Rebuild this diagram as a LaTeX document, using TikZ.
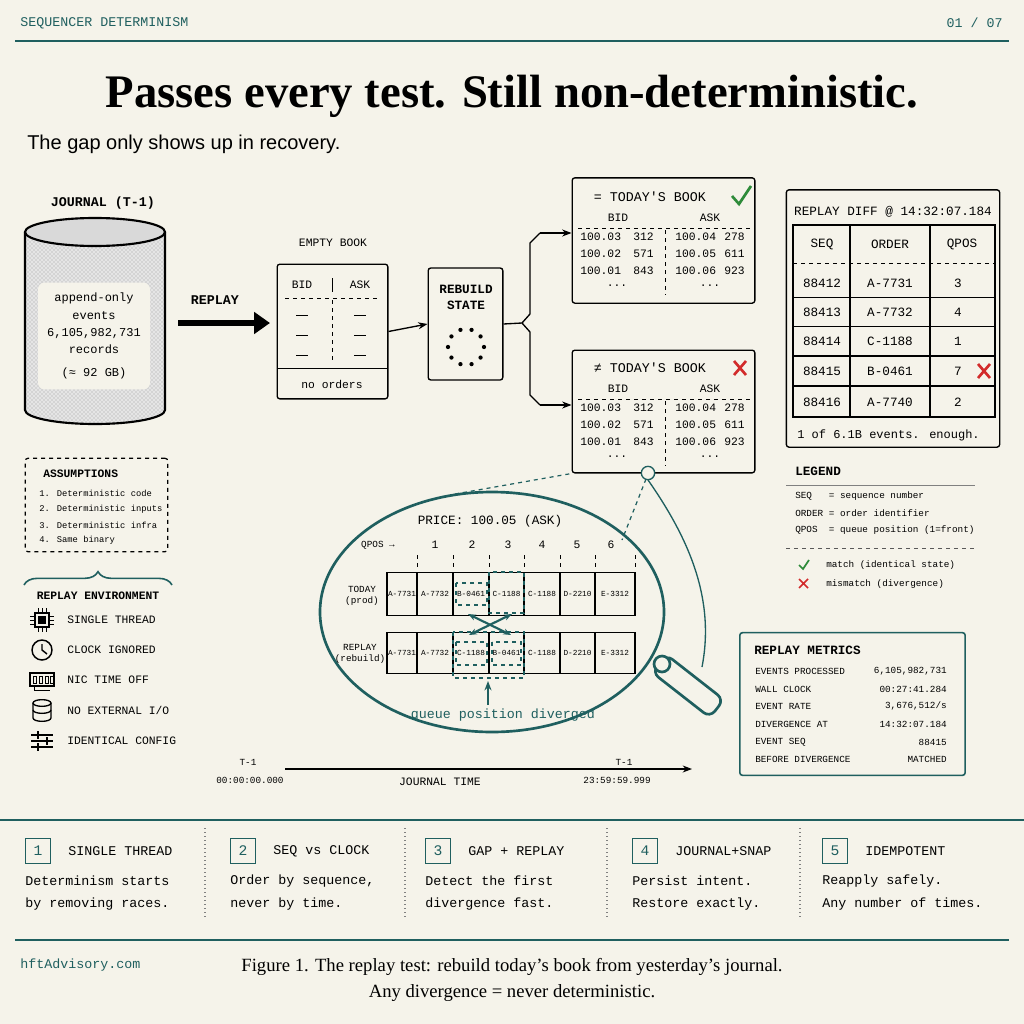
\documentclass[tikz,border=0pt]{standalone}
\usepackage{fontspec}
\setmainfont{Liberation Serif}
\newfontfamily\mono{Liberation Mono}
\newfontfamily\sansf{Liberation Sans}
\newfontfamily\djv{DejaVu Sans}
\usetikzlibrary{arrows.meta,patterns,decorations.pathreplacing}
\definecolor{bg}{HTML}{F5F3EA}
\definecolor{tl}{HTML}{1F5F5F}
\definecolor{okg}{HTML}{2E8B3A}
\definecolor{bad}{HTML}{D22B2B}
\tikzset{
 m/.style={font=\mono\fontsize{8.5pt}{10pt}\selectfont,inner sep=0pt},
 ms/.style={font=\mono\fontsize{7pt}{8.5pt}\selectfont,inner sep=0pt},
 mb/.style={font=\mono\fontsize{10pt}{12pt}\selectfont,inner sep=0pt},
 box/.style={draw=black,line width=1pt,rounded corners=2pt},
 cell/.style={draw=black,line width=0.8pt,font=\mono\fontsize{5.8pt}{7pt}\selectfont,inner sep=0pt},
 tdash/.style={draw=tl,dashed,line width=0.9pt},
 arr/.style={-{Stealth[length=7pt]},line width=1pt},
}
\begin{document}
\begin{tikzpicture}[x=0.75pt,y=-0.75pt]
\fill[bg] (0,0) rectangle (1024,1024);
\useasboundingbox (0,0) rectangle (1024,1024);
% header
\node[mb,text=tl,anchor=west] (hd) at (20,23) {SEQUENCER DETERMINISM};
\node[mb,text=tl,anchor=east] (pg) at (1003,23) {01 / 07};
\draw[tl,line width=1.2pt] (15,41) -- (1009,41);
\node[font=\bfseries\fontsize{35pt}{38pt}\selectfont,inner sep=0pt] (title) at (512,96) {Passes every test. Still non-deterministic.};
\node[font=\sansf\fontsize{15pt}{17pt}\selectfont,anchor=west,inner sep=0pt] (sub) at (27,144) {The gap only shows up in recovery.};
% journal
\node[font=\mono\bfseries\fontsize{10pt}{12pt}\selectfont] (jt) at (103,203) {JOURNAL (T-1)};
\path[fill=gray!20] (25,232) -- (25,410) arc[start angle=180,end angle=360,x radius=52.5pt,y radius=10.5pt] -- (165,232) -- cycle;
\path[pattern=crosshatch dots,pattern color=gray!75] (25,232) -- (25,410) arc[start angle=180,end angle=360,x radius=52.5pt,y radius=10.5pt] -- (165,232) -- cycle;
\draw[line width=1.6pt] (25,232) -- (25,410) arc[start angle=180,end angle=360,x radius=52.5pt,y radius=10.5pt] -- (165,232);
\draw[line width=1.6pt,fill=gray!30] (95,232) ellipse[x radius=52.5pt,y radius=10.5pt];
\node[fill=bg,rounded corners=5pt,minimum width=84pt,minimum height=80pt,align=center,font=\mono\fontsize{9pt}{13pt}\selectfont] (jr) at (94,336) {append-only\\events\\6,105,982,731\\records\\[4pt](≈ 92 GB)};
% replay arrow
\node[font=\mono\bfseries\fontsize{10pt}{12pt}\selectfont] (rl) at (215,300) {REPLAY};
\coordinate (ra) at (178,323);
\coordinate (rb) at (270,323);
\draw[line width=4pt,-{Triangle[length=12pt,width=16pt]}] (ra) -- (rb);
% empty book
\node[m] (ebl) at (333,243) {EMPTY BOOK};
\node[box,minimum width=83pt,minimum height=101pt] (eb) at (332.5,331.5) {};
\node[m] at (302,285) {BID}; \node[m] at (360,285) {ASK};
\draw (332,278) -- (332,292);
\draw[dashed] (285,298) -- (380,298);
\foreach \y in {315,335,355}{\draw (296,\y) -- (308,\y); \draw (354,\y) -- (366,\y);}
\draw[dashed] (332,300) -- (332,362);
\draw (277,368) -- (388,368);
\node[m] at (332,384) {no orders};
% rebuild
\node[box,minimum width=56pt,minimum height=84pt] (rs) at (465.5,324) {};
\node[font=\mono\bfseries\fontsize{9.5pt}{12pt}\selectfont,align=center] at (466,297) {REBUILD\\STATE};
\foreach \a in {0,36,...,324}{\fill (466,347) ++(\a:13.5pt) circle (1.6pt);}
\draw[arr] (eb.east) -- (rs.west);
% books
\node[box,minimum width=137pt,minimum height=94pt] (b1) at (663.5,240.5) {};
\node[box,minimum width=137pt,minimum height=92pt] (b2) at (663.5,411.5) {};
\node[font=\mono\fontsize{10pt}{12pt}\selectfont] at (650,197) {= TODAY'S BOOK};
\node[font=\mono\fontsize{10pt}{12pt}\selectfont] at (650,368) {≠ TODAY'S BOOK};
\draw[okg,line width=2pt] (732,196) -- (739,204) -- (751,186);
\draw[bad,line width=2pt] (734,361) -- (746,375) (746,361) -- (734,375);
\foreach \o in {0,171}{
 \begin{scope}[yshift=-\o*0.75pt]
 \node[m] at (618,218) {BID}; \node[m] at (710,218) {ASK};
 \draw[dashed] (578,228) -- (750,228);
 \draw[dashed] (665,230) -- (665,295);
 \node[m,anchor=west] at (580,237) {100.03}; \node[m,anchor=east] at (654,237) {312};
 \node[m,anchor=west] at (675,237) {100.04}; \node[m,anchor=east] at (745,237) {278};
 \node[m,anchor=west] at (580,254) {100.02}; \node[m,anchor=east] at (654,254) {571};
 \node[m,anchor=west] at (675,254) {100.05}; \node[m,anchor=east] at (745,254) {611};
 \node[m,anchor=west] at (580,271) {100.01}; \node[m,anchor=east] at (654,271) {843};
 \node[m,anchor=west] at (675,271) {100.06}; \node[m,anchor=east] at (745,271) {923};
 \node[m] at (617,286) {...}; \node[m] at (710,286) {...};
 \end{scope}}
% fork
\coordinate (fk) at (522,323);
\draw[line width=1pt] (rs.east) -- (fk) -- (530,314) -- (530,243) -- (540,233);
\draw[line width=1pt] (fk) -- (530,332) -- (530,395) -- (540,405);
\draw[arr] (540,233) -- (b1.west |- 0,233);
\draw[arr] (540,405) -- (b2.west |- 0,405);
% replay diff
\node[box,minimum width=160pt,minimum height=193pt] (rd) at (893,318.5) {};
\node[m,font=\mono\fontsize{9.5pt}{11pt}\selectfont] at (893,212) {REPLAY DIFF @ 14:32:07.184};
\draw[line width=0.8pt] (793,225) rectangle (995,417);
\draw[line width=0.8pt] (850,225) -- (850,417) (930,225) -- (930,417);
\node[m,font=\mono\fontsize{9.5pt}{11pt}\selectfont] at (822,244) {SEQ};
\node[m,font=\mono\fontsize{9.5pt}{11pt}\selectfont] at (890,244) {ORDER};
\node[m,font=\mono\fontsize{9.5pt}{11pt}\selectfont] at (962,244) {QPOS};
\draw[dashed] (793,263) -- (995,263);
\foreach \y/\s/\o/\q in {283/88412/A-7731/3,312/88413/A-7732/4,341/88414/C-1188/1,371/88415/B-0461/7,402/88416/A-7740/2}{
 \node[m,font=\mono\fontsize{9.5pt}{11pt}\selectfont] at (822,\y) {\s};
 \node[m,font=\mono\fontsize{9.5pt}{11pt}\selectfont] at (890,\y) {\o};
 \node[m,font=\mono\fontsize{9.5pt}{11pt}\selectfont] at (958,\y) {\q};}
\draw[line width=0.6pt] (793,297) -- (995,297) (793,326) -- (995,326) (793,386) -- (995,386);
\draw[line width=1.8pt] (793,356) rectangle (995,386);
\draw[bad,line width=2pt] (978,364) -- (990,378) (990,364) -- (978,378);
\node[m,font=\mono\fontsize{9pt}{11pt}\selectfont,anchor=west] at (797,435) {1 of 6.1B events. enough.};
% legend
\node[m,font=\mono\bfseries\fontsize{9.5pt}{11pt}\selectfont,anchor=west] (lg) at (795,471) {LEGEND};
\draw[gray] (786,485) -- (975,485);
\node[ms,anchor=west] at (795,496) {SEQ\ \ \ = sequence number};
\node[ms,anchor=west] at (795,513) {ORDER = order identifier};
\node[ms,anchor=west] at (795,530) {QPOS\ \ = queue position (1=front)};
\draw[dashed,gray!70!black] (786,548) -- (975,548);
\draw[okg,line width=1.3pt] (799,565) -- (803,569) -- (809,560);
\node[ms,anchor=west] at (826,565) {match (identical state)};
\draw[bad,line width=1.3pt] (799,579) -- (808,588) (808,579) -- (799,588);
\node[ms,anchor=west] at (826,584) {mismatch (divergence)};
% assumptions
\node[draw,dashed,line width=0.9pt,rounded corners=2pt,minimum width=107pt,minimum height=70pt] (as) at (96.5,505) {};
\node[m,font=\mono\bfseries\fontsize{8.5pt}{10pt}\selectfont,anchor=west] at (43,474) {ASSUMPTIONS};
\foreach \y/\t in {493/1. Deterministic code,509/2. Deterministic inputs,525/3. Deterministic infra,540/4. Same binary}
 \node[ms,font=\mono\fontsize{6.6pt}{8pt}\selectfont,anchor=west] at (39,\y) {\t};
\draw[tl,line width=1.2pt,decorate,decoration={brace,amplitude=10pt}] (24,585) -- (172,585);
\node[m,font=\mono\bfseries\fontsize{8.5pt}{10pt}\selectfont] (re) at (98,596) {REPLAY ENVIRONMENT};
\foreach \y/\t in {620/{SINGLE THREAD},650/{CLOCK IGNORED},680/{NIC TIME OFF},710/{NO EXTERNAL I/O},741/{IDENTICAL CONFIG}}
 \node[m,anchor=west] at (67,\y) {\t};
% icons
\draw[line width=0.9pt] (35,613) rectangle (49,627); \fill (38,616) rectangle (46,624);
\foreach \d in {-4,0,4}{\draw (30,620+\d) -- (35,620+\d) (49,620+\d) -- (54,620+\d) (42+\d,608) -- (42+\d,613) (42+\d,627) -- (42+\d,632);}
\draw[line width=1.1pt] (42,650) circle (7.5pt); \draw[line width=1.1pt] (42,644) -- (42,650) -- (47,654);
\draw[line width=1.1pt] (30,673) rectangle (54,686); \foreach \x in {33,39,45,50} \draw (\x,676) rectangle (\x+3,683); \draw (34,686) -- (34,690) -- (50,690);
\draw[line width=1pt] (33,703) -- (33,718) arc[start angle=180,end angle=360,x radius=6.75pt,y radius=2.5pt] -- (51,703);
\draw[line width=1pt] (42,703) ellipse[x radius=6.75pt,y radius=2.5pt];
\draw[line width=1pt] (33,710) arc[start angle=180,end angle=360,x radius=6.75pt,y radius=2.5pt];
\draw[line width=1.1pt] (31,735) -- (53,735) (31,741) -- (53,741) (31,747) -- (53,747) (38,731) -- (38,739) (47,737) -- (47,745) (38,743) -- (38,751);
% magnifier
\node[draw=tl,line width=2pt,rounded corners=6pt,fill=bg,minimum width=55pt,minimum height=17pt,rotate=-38] (hdl) at (688,686) {};
\draw[tl,line width=2pt,fill=bg] (662,664) circle (6pt);
\draw[tl,line width=2pt,fill=bg] (492,612) ellipse[x radius=129pt,y radius=90pt];
\draw[tl,line width=1pt] (648,480) .. controls (690,540) and (715,600) .. (702,667);
\coordinate (mz1) at (455,494);
\coordinate (mz2) at (622,540);
\draw[tdash] (mz1) -- (b2.south west);
\draw[tl,fill=bg,line width=1pt] (648,473) circle (5pt);
\draw[tdash] (646,479) -- (mz2);
\node[m,font=\mono\fontsize{9.5pt}{11pt}\selectfont] (pr) at (490,521) {PRICE: 100.05 (ASK)};
\node[ms] at (378,545) {QPOS →};
\foreach \x/\n in {435/1,472/2,508/3,542/4,577/5,611/6} \node[m] at (\x,545) {\n};
\foreach \x in {417,453,489,524,560,595,635} \draw[dashed] (\x,555) -- (\x,568);
\node[ms,align=center] at (362,596) {TODAY\\(prod)};
\node[ms,align=center] at (360,654) {REPLAY\\(rebuild)};
\foreach \a/\b/\t in {387/417/A-7731,417/453/A-7732,453/489/B-0461,489/524/C-1188,524/560/C-1188,560/595/D-2210,595/635/E-3312}
 \node[cell,minimum height=32pt,minimum width={(\b-\a)*0.75pt}] at ({(\a+\b)/2},594) {\t};
\foreach \a/\b/\t in {387/417/A-7731,417/453/A-7732,453/489/C-1188,489/524/B-0461,524/560/C-1188,560/595/D-2210,595/635/E-3312}
 \node[cell,minimum height=31pt,minimum width={(\b-\a)*0.75pt}] at ({(\a+\b)/2},653) {\t};
\draw[tdash] (456,583) rectangle (487,605);
\draw[tdash] (489,572) rectangle (524,613);
\draw[tdash] (453,632) rectangle (524,678);
\draw[tdash] (456,642) rectangle (487,665);
\draw[tdash] (492,642) rectangle (521,665);
\draw[tl,line width=1.6pt,{Stealth[length=6pt]}-{Stealth[length=6pt]}] (468,614) -- (511,635);
\draw[tl,line width=1.6pt,{Stealth[length=6pt]}-{Stealth[length=6pt]}] (512,614) -- (469,635);
\coordinate (qa) at (488,705);
\draw[tl,line width=1.4pt,-{Stealth[length=7pt]}] (qa) -- (488,681);
\node[font=\mono\fontsize{10pt}{12pt}\selectfont,text=tl,inner sep=0pt] (qd) at (503,715) {queue position diverged};
% timeline
\node[ms] at (248,762) {T-1}; \node[ms] at (250,780) {00:00:00.000};
\node[ms] at (624,762) {T-1}; \node[ms] at (617,780) {23:59:59.999};
\coordinate (t0) at (285,769); \coordinate (t1) at (692,769);
\draw[line width=0.8pt,-{Stealth[length=7pt]}] (t0) -- (t1);
\node[m] at (440,782) {JOURNAL TIME};
% metrics
\node[draw=tl,line width=1.2pt,rounded corners=2pt,minimum width=169pt,minimum height=107pt] (rm) at (852.5,704) {};
\node[m,font=\mono\bfseries\fontsize{9.5pt}{11pt}\selectfont,anchor=west] at (754,650) {REPLAY METRICS};
\foreach \y/\a/\b in {671/{EVENTS PROCESSED}/{6,105,982,731},689/{WALL CLOCK}/{00:27:41.284},706/{EVENT RATE}/{3,676,512/s},724/{DIVERGENCE AT}/{14:32:07.184},742/{EVENT SEQ}/{88415},759/{BEFORE DIVERGENCE}/{MATCHED}}{
 \node[ms,anchor=west] at (755,\y) {\a}; \node[ms,anchor=east] at (947,\y) {\b};}
% bottom
\draw[tl,line width=1.2pt] (0,820) -- (1024,820);
\foreach \x in {205,405,607,800} \draw[gray,dotted,line width=1pt] (\x,828) -- (\x,918);
\foreach \x/\n/\t/\a/\b in {25/1/{SINGLE THREAD}/{Determinism starts}/{by removing races.},230/2/{SEQ vs CLOCK}/{Order by sequence,}/{never by time.},425/3/{GAP + REPLAY}/{Detect the first}/{divergence fast.},632/4/{JOURNAL+SNAP}/{Persist intent.}/{Restore exactly.},822/5/{IDEMPOTENT}/{Reapply safely.}/{Any number of times.}}{
 \node[draw=tl,line width=1.1pt,text=tl,minimum size=19pt,inner sep=0pt,font=\mono\fontsize{11pt}{12pt}\selectfont] at (\x+13,851) {\n};
 \node[mb,anchor=west] at (\x+43,851) {\t};
 \node[m,font=\mono\fontsize{10pt}{12pt}\selectfont,anchor=west] at (\x,881) {\a};
 \node[m,font=\mono\fontsize{10pt}{12pt}\selectfont,anchor=west] at (\x,904) {\b};}
\draw[tl,line width=1.2pt] (15,940) -- (1009,940);
\node[mb,text=tl,anchor=west] (web) at (20,965) {hftAdvisory.com};
\node[font=\fontsize{14pt}{19pt}\selectfont,align=center,inner sep=0pt] (cap) at (512,980) {Figure 1. The replay test: rebuild today’s book from yesterday’s journal.\\Any divergence = never deterministic.};
\end{tikzpicture}
\end{document}
